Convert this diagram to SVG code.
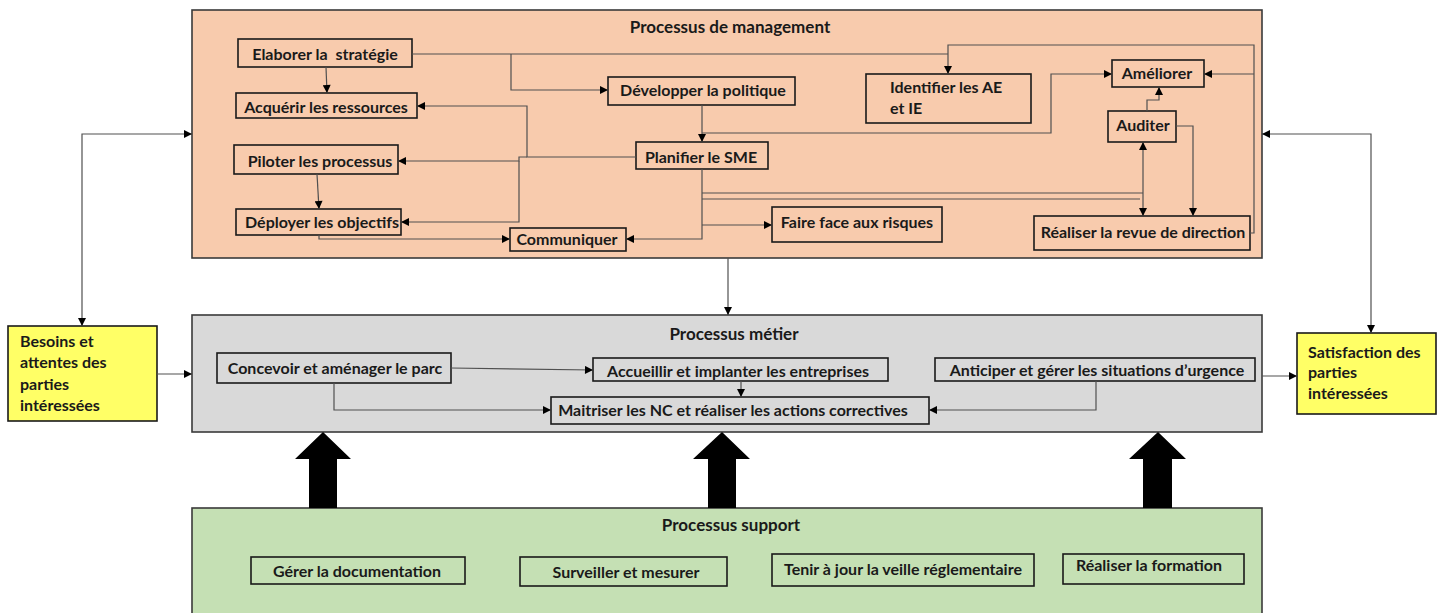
<svg xmlns="http://www.w3.org/2000/svg" width="1453" height="613" viewBox="0 0 1453 613">
<style>
text{font-family:Lato,"Open Sans","Liberation Sans",sans-serif;font-weight:bold;font-size:16px;fill:#1a1a1a}
.t{font-size:17px}
.c{text-anchor:middle}
.box{fill:none;stroke:#1a1a1a;stroke-width:1.6}
.cont{stroke:#3a3a3a;stroke-width:1.6}
.ln{fill:none;stroke:#505050;stroke-width:1.2}
.blk{fill:#000}
</style>
<defs>
<marker id="ah" viewBox="0 0 10 10" refX="10" refY="5" markerWidth="9" markerHeight="8" markerUnits="userSpaceOnUse" orient="auto-start-reverse"><path d="M0,0 L10,5 L0,10 z" fill="#000"/></marker>
</defs>

<g id="management">
<rect class="cont" x="192" y="10" width="1070" height="248" fill="#F8CBAD"/>
<text class="t c" x="730" y="33">Processus de management</text>
</g>
<g id="metier">
<rect class="cont" x="192" y="315" width="1070" height="117" fill="#D9D9D9"/>
<text class="t c" x="734" y="340">Processus métier</text>
</g>
<g id="support">
<rect class="cont" x="192" y="508" width="1070" height="110" fill="#C5E0B4"/>
<text class="t c" x="731" y="531">Processus support</text>
</g>

<g id="besoins">
<rect x="8" y="326" width="149" height="95" fill="#FFFF66" stroke="#1a1a1a" stroke-width="1.6"/>
<text x="20" y="347">Besoins et</text>
<text x="20" y="368">attentes des</text>
<text x="20" y="390">parties</text>
<text x="20" y="411">intéressées</text>
</g>
<g id="satisfaction">
<rect x="1297" y="333" width="139" height="81" fill="#FFFF66" stroke="#1a1a1a" stroke-width="1.6"/>
<text x="1308" y="358">Satisfaction des</text>
<text x="1308" y="378">parties</text>
<text x="1308" y="399">intéressées</text>
</g>

<g id="elaborer"><rect class="box" x="238" y="39" width="174" height="28"/><text class="c" x="325" y="60" xml:space="preserve">Elaborer la  stratégie</text></g>
<g id="acquerir"><rect class="box" x="236" y="93" width="181" height="25"/><text class="c" x="326" y="113">Acquérir les ressources</text></g>
<g id="piloter"><rect class="box" x="234" y="145" width="164" height="29"/><text class="c" x="320" y="167">Piloter les processus</text></g>
<g id="deployer"><rect class="box" x="236" y="209" width="165" height="26"/><text class="c" x="322" y="228">Déployer les objectifs</text></g>
<g id="communiquer"><rect class="box" x="510" y="228" width="116" height="23"/><text class="c" x="567" y="245">Communiquer</text></g>
<g id="developper"><rect class="box" x="608" y="77" width="187" height="28"/><text class="c" x="703" y="96">Développer la politique</text></g>
<g id="planifier"><rect class="box" x="636" y="142" width="132" height="27"/><text class="c" x="701" y="163">Planifier le SME</text></g>
<g id="faireface"><rect class="box" x="772" y="207" width="170" height="35"/><text class="c" x="857" y="228">Faire face aux risques</text></g>
<g id="identifier"><rect class="box" x="866" y="74" width="165" height="49"/><text x="890" y="93">Identifier les AE</text><text x="890" y="114">et IE</text></g>
<g id="ameliorer"><rect class="box" x="1112" y="60" width="92" height="27"/><text class="c" x="1157" y="79">Améliorer</text></g>
<g id="auditer"><rect class="box" x="1108" y="111" width="68" height="31"/><text class="c" x="1143" y="131">Auditer</text></g>
<g id="revue"><rect class="box" x="1034" y="216" width="216" height="34"/><text class="c" x="1143" y="238">Réaliser la revue de direction</text></g>

<g id="concevoir"><rect class="box" x="217" y="353" width="234" height="30"/><text class="c" x="335" y="374">Concevoir et aménager le parc</text></g>
<g id="accueillir"><rect class="box" x="593" y="358" width="295" height="23"/><text class="c" x="738" y="377">Accueillir et implanter les entreprises</text></g>
<g id="maitriser"><rect class="box" x="551" y="397" width="378" height="27"/><text class="c" x="733" y="416">Maitriser les NC et réaliser les actions correctives</text></g>
<g id="anticiper"><rect class="box" x="935" y="358" width="320" height="23"/><text class="c" x="1097" y="376">Anticiper et gérer les situations d’urgence</text></g>

<g id="documentation"><rect class="box" x="251" y="557" width="214" height="27"/><text class="c" x="357" y="577">Gérer la documentation</text></g>
<g id="surveiller"><rect class="box" x="520" y="557" width="207" height="29"/><text class="c" x="626" y="578">Surveiller et mesurer</text></g>
<g id="veille"><rect class="box" x="772" y="554" width="262" height="32"/><text class="c" x="903" y="575">Tenir à jour la veille réglementaire</text></g>
<g id="formation"><rect class="box" x="1063" y="554" width="181" height="30"/><text class="c" x="1149" y="571">Réaliser la formation</text></g>

<g id="connectors">
<path class="ln" d="M326,67 L327,93" marker-end="url(#ah)"/>
<path class="ln" d="M412,54 H948"/>
<path class="ln" d="M1250,233 H1254 V45 H948 V74" marker-end="url(#ah)"/>
<path class="ln" d="M1254,74 H1204" marker-end="url(#ah)"/>
<path class="ln" d="M511,54 V90 H608" marker-end="url(#ah)"/>
<path class="ln" d="M702,105 V142" marker-end="url(#ah)"/>
<path class="ln" d="M636,157 H527 V106 H417" marker-end="url(#ah)"/>
<path class="ln" d="M527,157 H519 V161 H398" marker-end="url(#ah)"/>
<path class="ln" d="M519,161 V222 H401" marker-end="url(#ah)"/>
<path class="ln" d="M317,174 L319,209" marker-end="url(#ah)"/>
<path class="ln" d="M319,235 V239 H510" marker-end="url(#ah)"/>
<path class="ln" d="M702,169 V239 H626" marker-end="url(#ah)"/>
<path class="ln" d="M702,225 H772" marker-end="url(#ah)"/>
<path class="ln" d="M702,193 H1143"/>
<path class="ln" d="M702,199 H1140"/>
<path class="ln" d="M1143,142 V216" marker-start="url(#ah)" marker-end="url(#ah)"/>
<path class="ln" d="M702,133 H1051 V74 H1112" marker-end="url(#ah)"/>
<path class="ln" d="M1147,111 V100 H1159 V87" marker-end="url(#ah)"/>
<path class="ln" d="M1176,126 H1193 V216" marker-end="url(#ah)"/>
<path class="ln" d="M82,326 V134 H192" marker-start="url(#ah)" marker-end="url(#ah)"/>
<path class="ln" d="M1371,333 V134 H1262" marker-start="url(#ah)" marker-end="url(#ah)"/>
<path class="ln" d="M728,258 V315" marker-end="url(#ah)"/>
<path class="ln" d="M157,374 H192" marker-end="url(#ah)"/>
<path class="ln" d="M1262,376 H1297" marker-end="url(#ah)"/>
<path class="ln" d="M451,368 L593,370" marker-end="url(#ah)"/>
<path class="ln" d="M741,381 V397" marker-end="url(#ah)"/>
<path class="ln" d="M334,383 V410 H551" marker-end="url(#ah)"/>
<path class="ln" d="M1096,381 V410 H929" marker-end="url(#ah)"/>
<polygon class="blk" points="323,432 351,459 337,459 337,508 309,508 309,459 295,459"/>
<polygon class="blk" points="722,432 750,459 736,459 736,508 708,508 708,459 693,459"/>
<polygon class="blk" points="1158,432 1186,459 1172,459 1172,508 1143,508 1143,459 1129,459"/>
</g>
</svg>
